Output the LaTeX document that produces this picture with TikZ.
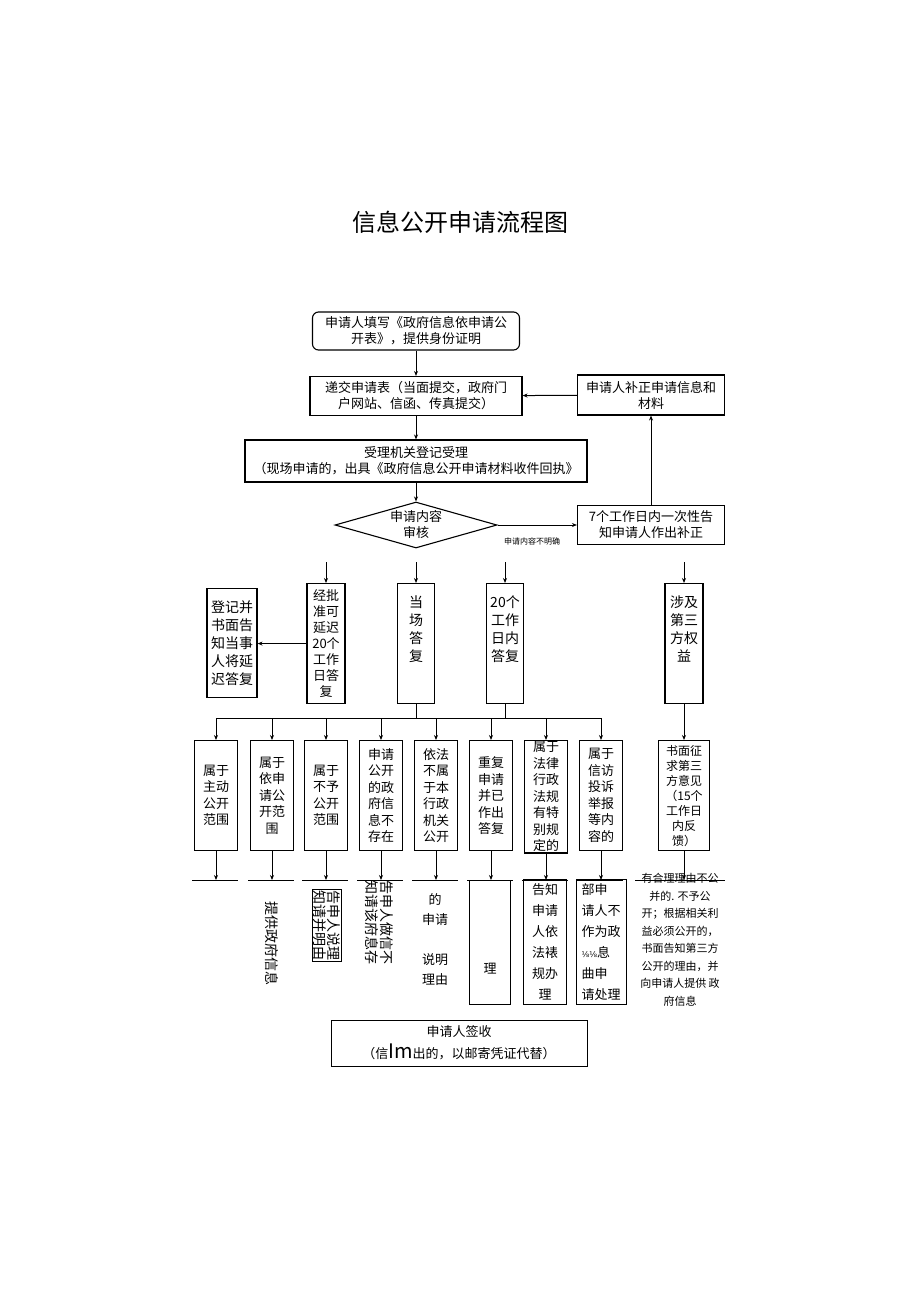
\documentclass[tikz,border=0pt]{standalone}
\usepackage{fontspec}
\setmainfont{Noto Sans CJK SC}
\newfontfamily\djv{DejaVu Sans}
\usetikzlibrary{arrows.meta,shapes.geometric}
\begin{document}
\begin{tikzpicture}[x=1pt,y=-1pt,
  every node/.style={font=\fontsize{13}{16}\selectfont, align=center, inner sep=1pt},
  bx/.style={draw, line width=1.1pt, align=center},
  vb/.style={bx, anchor=north, font=\fontsize{14}{18}\selectfont},
  arr/.style={-{Stealth[length=5pt,width=4pt]}, line width=1pt},
  ln/.style={line width=1pt}]
\useasboundingbox (0,0) rectangle (920,1301);
\node (title) at (460,222) {\fontsize{24}{28}\selectfont 信息公开申请流程图};
\node[bx, rounded corners=6pt, minimum width=207, minimum height=38] (b1) at (416,331) {申请人填写《政府信息依申请公\\开表》，提供身份证明};
\node[bx, minimum width=212, minimum height=39] (b2) at (416,396) {递交申请表（当面提交，政府门\\户网站、信函、传真提交）};
\node[bx, minimum width=342, minimum height=42] (b3) at (416,461) {受理机关登记受理\\（现场申请的，出具《政府信息公开申请材料收件回执》};
\node[diamond, draw, line width=1.1pt, minimum width=162, minimum height=46, aspect=3.5, inner sep=0] (d) at (416,525) {};
\node at (416,525) {申请内容\\审核};
\node[bx, minimum width=147, minimum height=39] (b7) at (651,525) {7个工作日内一次性告\\知申请人作出补正};
\node[bx, minimum width=147, minimum height=40] (bz) at (651,395) {申请人补正申请信息和\\材料};
\node[font=\fontsize{8}{9}\selectfont] (lbl) at (532,541) {申请内容不明确};
\draw[arr] (b1) -- (b2);
\draw[arr] (b2) -- (b3);
\draw[arr] (b3) -- (d);
\draw[arr] (d) -- (b7);
\draw[arr] (b7) -- (bz);
\draw[arr] (bz) -- (b2);
% second row
\node[vb, minimum width=50, minimum height=109] (t0) at (232,588) {登记并\\书面告\\知当事\\人将延\\迟答复};
\node[vb, minimum width=38, minimum height=120, font=\fontsize{13}{16}\selectfont] (t1) at (326,583) {经批\\准可\\延迟\\20个\\工作\\日答\\复};
\node[vb, minimum width=37, minimum height=120] (t2) at (416,583) {\\当\\场\\答\\复\\ \\ };
\node[vb, minimum width=37, minimum height=120] (t3) at (505,583) {\\20个\\工作\\日内\\答复\\ \\ };
\node[vb, minimum width=38, minimum height=120] (t4) at (684,583) {\\涉及\\第三\\方权\\益\\ \\ };
\foreach \n/\x in {1/326,2/416,3/505,4/684} {
  \coordinate (s\n) at (\x,562);
  \draw[arr] (s\n) -- (t\n.north);
}
\draw[arr] (t1.west) -- (t0.east |- t1.west);
% bus
\coordinate (busL) at (216,718);
\coordinate (busR) at (601,718);
\draw[ln] (busL) -- (busR);
\draw[ln] (t2.south) -- (t2.south |- busL);
\draw[ln] (t3.south) -- (t3.south |- busL);
\foreach \i/\x/\t in {1/216/{属于\\主动\\公开\\范围},2/272/{属于\\依申\\请公\\开范\\围},3/326/{属于\\不予\\公开\\范围},4/381/{申请\\公开\\的政\\府信\\息不\\存在},5/436/{依法\\不属\\于本\\行政\\机关\\公开},6/491/{重复\\申请\\并已\\作出\\答复},7/546/{属于\\法律\\行政\\法规\\有特\\别规\\定的},8/601/{属于\\信访\\投诉\\举报\\等内\\容的}} {
  \node[vb, minimum width=43, minimum height=110, font=\fontsize{13}{16.5}\selectfont] (c\i) at (\x,740) {\t};
  \draw[arr] (\x,718) -- (c\i.north);
  \coordinate (e\i) at (\x,880);
  \draw[arr] (c\i.south) -- (e\i);
  \draw[ln] ([xshift=-24]e\i) -- ([xshift=22]e\i);
}
\node[vb, minimum width=51, minimum height=110, font=\fontsize{12}{15}\selectfont] (c9) at (684,740) {书面征\\求第三\\方意见\\（15个\\工作日\\内反\\馈）};
\draw[arr] (t4.south) -- (c9.north);
\coordinate (e9) at (684,880);
\draw[arr] (c9.south) -- (e9);
\draw[ln] (635,880) -- (725,880);
% bottom texts
\node[rotate=-90, font=\fontsize{14}{17}\selectfont] (r1) at (272,943) {提供政府信息};
\node[rotate=-90, draw, font=\fontsize{14}{14}\selectfont, inner sep=1pt] (r2) at (327,925) {告申人说理\\知请并明由};
\node[rotate=-90, font=\fontsize{14}{15}\selectfont] (r3) at (379,922) {吿申人做信不\\知请该府息存};
\node[font=\fontsize{13}{20}\selectfont] (r4) at (435,940) {的\\申请\\ \\说明\\理由};
\node[bx, minimum width=41, minimum height=124, line width=0.8pt] (r5) at (490,942) {\\ \\ \\ \\理};
\node[bx, minimum width=43, minimum height=125, line width=0.8pt, font=\fontsize{13}{21}\selectfont] (r6) at (545,942) {告知\\申请\\人依\\法裱\\规办\\ 理};
\node[bx, minimum width=50, minimum height=125, line width=0.8pt, font=\fontsize{13}{21}\selectfont, align=left] (r7) at (601,942) {部申\\请人不\\作为政\\{\djv\fontsize{8}{10}\selectfont ⅛⅛}息\\曲申\\请处理};
\node[font=\fontsize{11}{17.5}\selectfont] (r8) at (680,940) {有合理理由不公\\并的. 不予公\\开；根据相关利\\益必须公开的，\\书面告知第三方\\公开的理由，并\\向申请人提供\ 政\\府信息};
\node[bx, minimum width=256, minimum height=46, line width=0.8pt, font=\fontsize{13}{22}\selectfont] (fin) at (459,1043) {申请人签收\\（信{\fontsize{20}{20}\selectfont Im}出的，以邮寄凭证代替）};
\end{tikzpicture}
\end{document}
